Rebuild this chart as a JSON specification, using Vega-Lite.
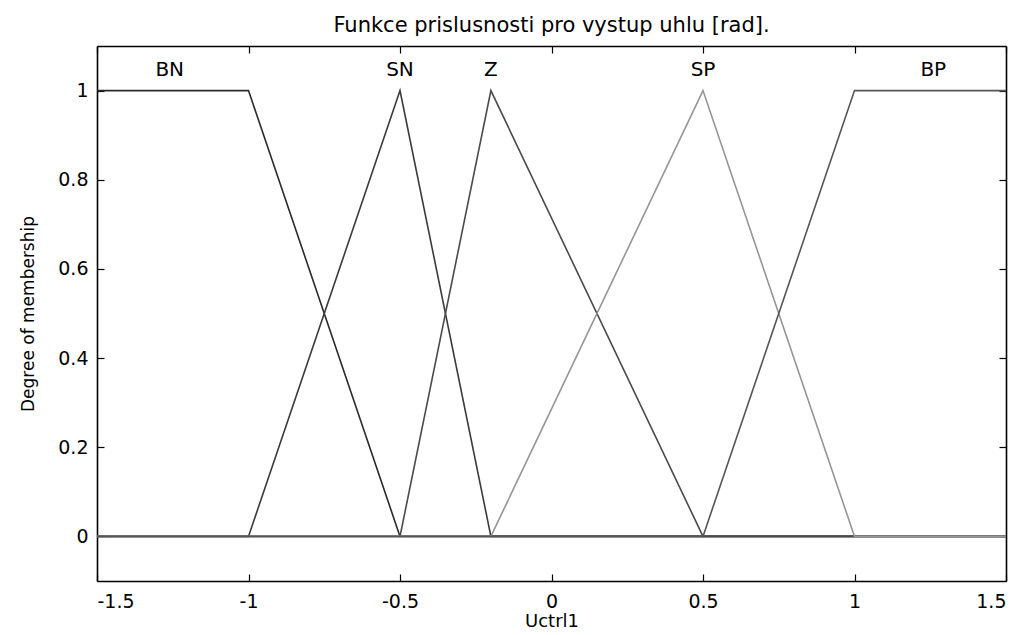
{
  "$schema": "https://vega.github.io/schema/vega-lite/v6.json",
  "autosize": "none",
  "width": 909,
  "height": 535,
  "padding": {"left": 97, "top": 46, "right": 18, "bottom": 54},
  "background": "white",
  "config": {"view": {"stroke": null}, "font": "DejaVu Sans"},
  "title": {"text": "Funkce prislusnosti pro vystup uhlu [rad].", "fontSize": 21, "fontWeight": "normal", "font": "DejaVu Sans", "color": "#000", "offset": 9, "anchor": "middle"},
  "datasets": {
    "mf": [
      {"mf": "BN", "x": -1.5, "y": 1}, {"mf": "BN", "x": -1, "y": 1}, {"mf": "BN", "x": -0.5, "y": 0}, {"mf": "BN", "x": 1.5, "y": 0},
      {"mf": "SN", "x": -1.5, "y": 0}, {"mf": "SN", "x": -1, "y": 0}, {"mf": "SN", "x": -0.5, "y": 1}, {"mf": "SN", "x": -0.2, "y": 0}, {"mf": "SN", "x": 1.5, "y": 0},
      {"mf": "Z", "x": -1.5, "y": 0}, {"mf": "Z", "x": -0.5, "y": 0}, {"mf": "Z", "x": -0.2, "y": 1}, {"mf": "Z", "x": 0.5, "y": 0}, {"mf": "Z", "x": 1.5, "y": 0},
      {"mf": "SP", "x": -1.5, "y": 0}, {"mf": "SP", "x": -0.2, "y": 0}, {"mf": "SP", "x": 0.5, "y": 1}, {"mf": "SP", "x": 1, "y": 0}, {"mf": "SP", "x": 1.5, "y": 0},
      {"mf": "BP", "x": -1.5, "y": 0}, {"mf": "BP", "x": 0.5, "y": 0}, {"mf": "BP", "x": 1, "y": 1}, {"mf": "BP", "x": 1.5, "y": 1}
    ],
    "labels": [
      {"label": "BN", "x": -1.26, "y": 1.047},
      {"label": "SN", "x": -0.5, "y": 1.047},
      {"label": "Z", "x": -0.2, "y": 1.047},
      {"label": "SP", "x": 0.5, "y": 1.047},
      {"label": "BP", "x": 1.26, "y": 1.047}
    ]
  },
  "layer": [
    {
      "data": {"name": "mf"},
      "mark": {"type": "line", "strokeWidth": 1.6, "clip": true},
      "encoding": {
        "x": {"field": "x", "type": "quantitative", "scale": {"domain": [-1.5, 1.5], "nice": false, "zero": false},
          "axis": {"title": "Uctrl1", "values": [-1.5, -1, -0.5, 0, 0.5, 1, 1.5], "labelExpr": "'' + datum.value", "tickSize": -7, "domainColor": "#000", "tickColor": "#000", "domainWidth": 1.6, "tickWidth": 1.2, "labelFont": "DejaVu Sans", "labelFontSize": 19, "labelColor": "#000", "labelPadding": 18, "titleFont": "DejaVu Sans", "titleFontSize": 18, "titleFontWeight": "normal", "titleColor": "#000", "titlePadding": 1, "grid": false}},
        "y": {"field": "y", "type": "quantitative", "scale": {"domain": [-0.1, 1.1], "nice": false, "zero": false},
          "axis": {"title": "Degree of membership", "values": [0, 0.2, 0.4, 0.6, 0.8, 1], "labelExpr": "'' + datum.value", "tickSize": -7, "domainColor": "#000", "tickColor": "#000", "domainWidth": 1.6, "tickWidth": 1.2, "labelFont": "DejaVu Sans", "labelFontSize": 19, "labelColor": "#000", "labelPadding": 16, "titleFont": "DejaVu Sans", "titleFontSize": 17, "titleFontWeight": "normal", "titleColor": "#000", "titlePadding": 20, "grid": false}},
        "color": {"field": "mf", "type": "nominal", "legend": null,
          "scale": {"domain": ["BN", "SN", "Z", "SP", "BP"], "range": ["#2a2a2a", "#3a3a3a", "#4a4a4a", "#959595", "#555555"]}},
        "detail": {"field": "mf"}
      }
    },
    {
      "data": {"name": "mf"},
      "mark": {"type": "rule", "color": "transparent"},
      "encoding": {
        "x": {"field": "x", "type": "quantitative", "axis": {"orient": "top", "title": null, "labels": false, "values": [-1.5, -1, -0.5, 0, 0.5, 1, 1.5], "tickSize": -7, "domainColor": "#000", "tickColor": "#000", "domainWidth": 1.6, "tickWidth": 1.2, "grid": false}},
        "y": {"field": "y", "type": "quantitative", "axis": {"orient": "right", "title": null, "labels": false, "values": [0, 0.2, 0.4, 0.6, 0.8, 1], "tickSize": -7, "domainColor": "#000", "tickColor": "#000", "domainWidth": 1.6, "tickWidth": 1.2, "grid": false}}
      }
    },
    {
      "data": {"name": "labels"},
      "mark": {"type": "text", "fontSize": 20, "font": "DejaVu Sans", "color": "#000", "baseline": "middle", "align": "center"},
      "encoding": {
        "x": {"field": "x", "type": "quantitative", "axis": null},
        "y": {"field": "y", "type": "quantitative", "axis": null},
        "text": {"field": "label"}
      }
    }
  ],
  "resolve": {"axis": {"x": "independent", "y": "independent"}, "scale": {"x": "shared", "y": "shared"}}
}
